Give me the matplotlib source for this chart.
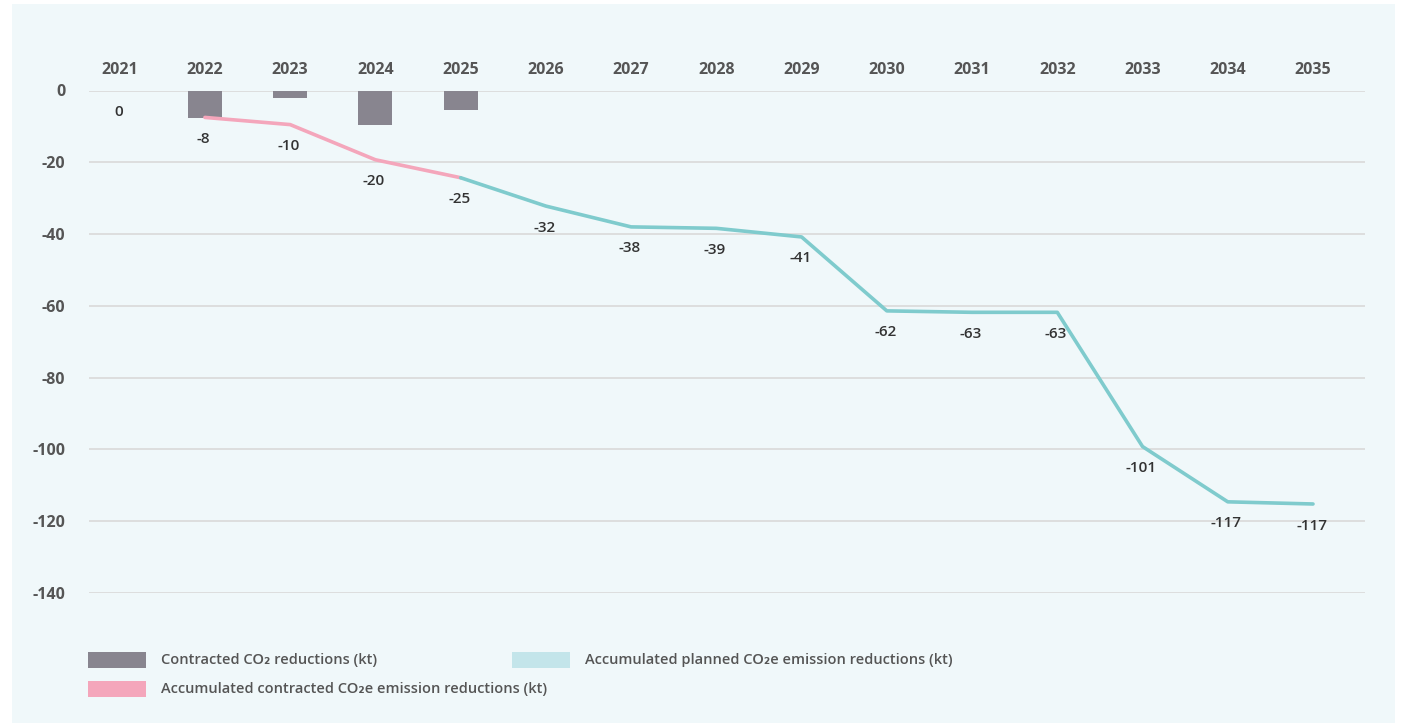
import matplotlib.pyplot as plt
from matplotlib.patches import Rectangle
from matplotlib.transforms import ScaledTranslation

plt.rcParams["font.family"] = ["Open Sans", "DejaVu Sans"]

# data
years = [2021, 2022, 2023, 2024, 2025, 2026, 2027, 2028, 2029, 2030, 2031, 2032, 2033, 2034, 2035]
contracted_bars = [0, -7.8, -2.0, -9.7, -5.3]            # 2021..2025
accum_contracted = [-7.5, -9.5, -19.3, -24.3]             # 2022..2025
accum_planned = [-24.3, -32.2, -38.0, -38.4, -40.8, -61.4, -61.8, -61.8,
                 -99.2, -114.6, -115.2]                   # 2025..2035
value_labels = ["0", "-8", "-10", "-20", "-25", "-32", "-38", "-39", "-41",
                "-62", "-63", "-63", "-101", "-117", "-117"]
label_y = [0] + accum_contracted + accum_planned[1:]
yticks = [0, -20, -40, -60, -80, -100, -120, -140]

BAR = "#88858f"
PINK = "#f4a6bb"
TEAL = "#7fcbcd"
TEAL_LIGHT = "#c3e5ea"
BG = "#f0f8fa"
TXT = "#555555"

W, H = 1403, 723
fig = plt.figure(figsize=(W / 100, H / 100), dpi=100, facecolor="white")
fig.patches.append(Rectangle((12 / W, 0), (1395 - 12) / W, (H - 4) / H,
                             transform=fig.transFigure, facecolor=BG,
                             edgecolor="none", zorder=-10))

ax = fig.add_axes([89 / W, 1 - 593 / H, (1365 - 89) / W, (593 - 90.5) / H])
ax.set_facecolor("none")
x = list(range(len(years)))

ax.bar(x[:5], contracted_bars, width=0.4, color=BAR, zorder=2)
ax.plot(x[1:5], accum_contracted, color=PINK, lw=2.6, zorder=3, solid_capstyle="round")
ax.plot(x[4:], accum_planned, color=TEAL, lw=2.6, zorder=3, solid_capstyle="round")

for xi, yi, lab in zip(x, label_y, value_labels):
    ax.annotate(lab, (xi, yi), xytext=(-1, -15.5), textcoords="offset points",
                ha="center", va="center", fontsize=11, fontweight="semibold",
                color="#333333")

# year labels sit above the top grid line
year_shift = ScaledTranslation(0, 12 / 100, fig.dpi_scale_trans)
for xi, yr in zip(x, years):
    ax.text(xi, 1, str(yr), transform=ax.get_xaxis_transform() + year_shift,
            ha="center", va="bottom", fontsize=11.5, fontweight="bold", color=TXT)

ax.set_xlim(-0.36, 14.61)
ax.set_ylim(-140, 0)
ax.set_yticks(yticks)
ax.set_yticklabels([str(v) for v in yticks], fontsize=11.5, fontweight="bold", color=TXT)
ax.tick_params(axis="y", length=0, pad=17)
ax.set_xticks([])
ax.grid(axis="y", color="#dcdcdc", lw=1.3, zorder=0)
ax.set_axisbelow(True)
for s in ax.spines.values():
    s.set_visible(False)

# legend drawn by hand to follow the reference layout
legend_items = [
    (88, 660, BAR, "Contracted CO₂ reductions (kt)"),
    (512, 660, TEAL_LIGHT, "Accumulated planned CO₂e emission reductions (kt)"),
    (88, 689, PINK, "Accumulated contracted CO₂e emission reductions (kt)"),
]
for px, py, col, text in legend_items:
    fig.patches.append(Rectangle((px / W, 1 - (py + 8) / H), 58 / W, 16 / H,
                                 transform=fig.transFigure, facecolor=col,
                                 edgecolor="none"))
    fig.text((px + 73) / W, 1 - py / H, text, ha="left", va="center",
             fontsize=10.5, fontweight="semibold", color=TXT)

fig.savefig("out.png", dpi=100, facecolor=fig.get_facecolor())
